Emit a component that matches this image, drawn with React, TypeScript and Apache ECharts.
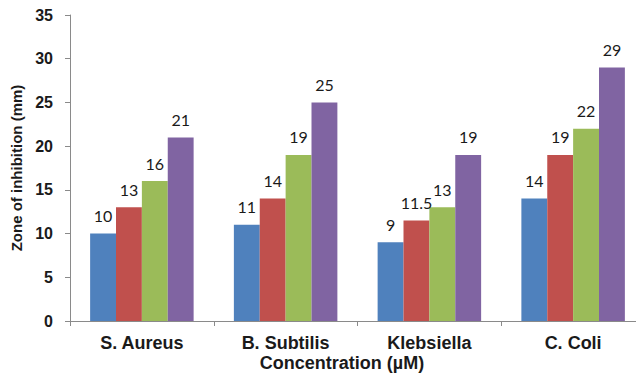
import React, { useEffect, useRef } from "react";
import * as echarts from "echarts";

const categories = ["S. Aureus", "B. Subtilis", "Klebsiella", "C. Coli"];
const seriesA = [10, 11, 9, 14];
const seriesB = [13, 14, 11.5, 19];
const seriesC = [16, 19, 13, 22];
const seriesD = [21, 25, 19, 29];
const yTicks = { min: 0, max: 35, interval: 5 };

const colors = ["#4F81BD", "#C0504D", "#9BBB59", "#8064A2"];
const axisGray = "#8a8a8a";
const textDark = "#1a1a1a";

export default function App() {
  const ref = useRef<HTMLDivElement>(null);

  useEffect(() => {
    if (!ref.current) return;
    const chart = echarts.init(ref.current, undefined, { renderer: "svg" });

    const makeSeries = (data: number[], i: number) => ({
      type: "bar",
      data,
      barGap: "0%",
      barCategoryGap: "28%",
      itemStyle: { color: colors[i] },
      label: {
        show: true,
        position: "top",
        distance: 10,
        fontFamily: "Lato",
        fontSize: 16,
        color: textDark,
      },
    });

    chart.setOption({
      animation: false,
      backgroundColor: "#ffffff",
      grid: {
        left: 70,
        top: 15,
        width: 575,
        height: 306,
        containLabel: false,
        outerBoundsMode: "none",
      },
      xAxis: {
        type: "category",
        data: categories,
        axisLine: { lineStyle: { color: axisGray, width: 1 } },
        axisTick: { show: true, length: 5, lineStyle: { color: axisGray } },
        axisLabel: {
          margin: 13,
          fontFamily: "Liberation Sans",
          fontWeight: "bold",
          fontSize: 18,
          color: textDark,
        },
        splitLine: { show: false },
      },
      yAxis: {
        type: "value",
        min: yTicks.min,
        max: yTicks.max,
        interval: yTicks.interval,
        name: "Zone of inhibition (mm)",
        nameLocation: "middle",
        nameGap: 44,
        nameRotate: 90,
        nameTextStyle: {
          fontFamily: "Liberation Sans",
          fontWeight: "bold",
          fontSize: 15,
          color: textDark,
        },
        axisLine: { show: true, lineStyle: { color: axisGray, width: 1 } },
        axisTick: { show: true, length: 5, lineStyle: { color: axisGray } },
        axisLabel: {
          margin: 17,
          fontFamily: "Liberation Sans",
          fontWeight: "bold",
          fontSize: 16,
          color: textDark,
        },
        splitLine: { show: false },
      },
      graphic: [
        {
          type: "text",
          x: 342,
          y: 363,
          style: {
            text: "Concentration (µM)",
            fontFamily: "Liberation Sans",
            fontWeight: "bold",
            fontSize: 18,
            fill: textDark,
            align: "center",
            verticalAlign: "middle",
          },
        },
      ],
      series: [seriesA, seriesB, seriesC, seriesD].map(makeSeries),
    });

    return () => chart.dispose();
  }, []);

  return (
    <div
      ref={ref}
      style={{ position: "fixed", left: 0, top: 0, width: 636, height: 381 }}
    />
  );
}
